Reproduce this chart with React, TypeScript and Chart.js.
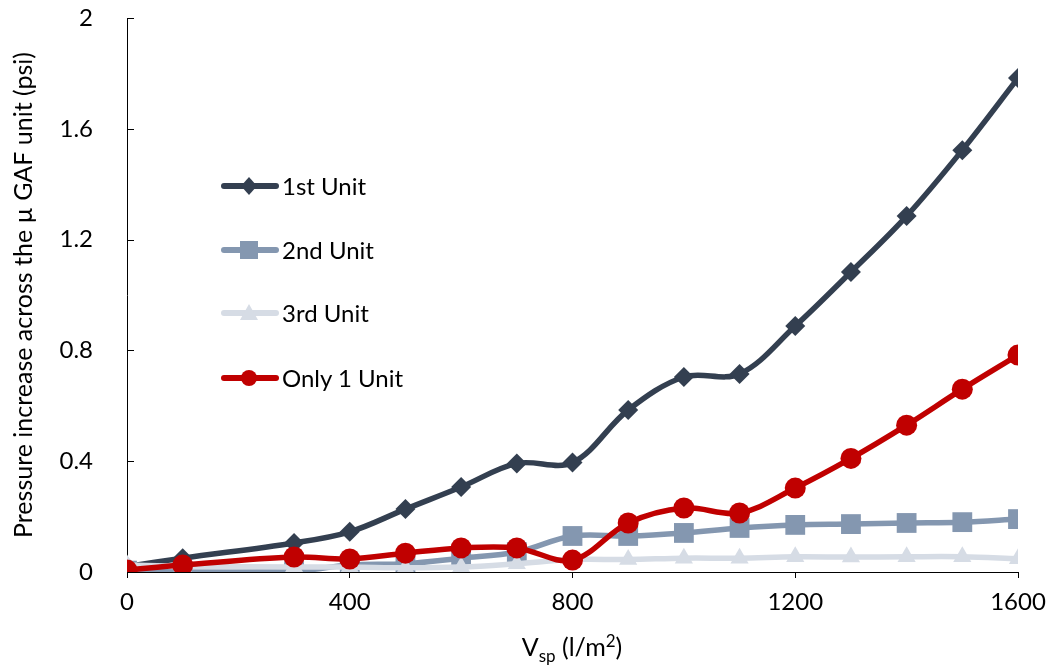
import React, { useEffect, useRef } from "react";
import Chart from "chart.js/auto";

const xValues = [0, 100, 300, 400, 500, 600, 700, 800, 900, 1000, 1100, 1200, 1300, 1400, 1500, 1600];
const unit1 = [0.02, 0.05, 0.105, 0.145, 0.227, 0.307, 0.392, 0.395, 0.585, 0.704, 0.715, 0.888, 1.083, 1.285, 1.523, 1.783];
const unit2 = [0.005, 0.0, 0.003, 0.025, 0.03, 0.05, 0.072, 0.13, 0.13, 0.141, 0.159, 0.17, 0.173, 0.177, 0.18, 0.191];
const unit3 = [0.025, 0.02, 0.018, 0.018, 0.015, 0.018, 0.03, 0.045, 0.045, 0.05, 0.05, 0.055, 0.054, 0.055, 0.055, 0.048];
const only1 = [0.007, 0.025, 0.054, 0.047, 0.068, 0.087, 0.087, 0.043, 0.177, 0.231, 0.213, 0.303, 0.41, 0.53, 0.66, 0.783];

const seriesNames = ["1st Unit", "2nd Unit", "3rd Unit", "Only 1 Unit"];
const seriesColors = ["#333F50", "#8497B0", "#D6DCE5", "#C00000"];
const xTicks = [0, 400, 800, 1200, 1600];
const yTicks = [0, 0.4, 0.8, 1.2, 1.6, 2];

const FONT = "Lato, 'Open Sans', sans-serif";

const toPts = (ys: number[]) => xValues.map((x, i) => ({ x, y: ys[i] }));

const yTickPlugin = {
  id: "yInwardTicks",
  afterDraw(chart: any) {
    const { ctx, chartArea, scales } = chart;
    ctx.save();
    ctx.strokeStyle = "#000";
    ctx.lineWidth = 1;
    yTicks.forEach((v) => {
      const y = Math.round(scales.y.getPixelForValue(v)) + 0.5;
      ctx.beginPath();
      ctx.moveTo(chartArea.left, y);
      ctx.lineTo(chartArea.left + 7, y);
      ctx.stroke();
    });
    ctx.restore();
  },
};

function LegendMarker({ idx }: { idx: number }) {
  const c = seriesColors[idx];
  let marker: any = null;
  if (idx === 0) marker = <polygon points="28,2 36,11 28,20 20,11" fill={c} />;
  if (idx === 1) marker = <rect x={19} y={2} width={18} height={18} fill={c} />;
  if (idx === 2) marker = <polygon points="28,2 37,18 19,18" fill={c} />;
  if (idx === 3) marker = <circle cx={28} cy={11} r={8} fill={c} />;
  return (
    <svg width={58} height={22} style={{ display: "block" }}>
      <line x1={3} y1={11} x2={55} y2={11} stroke={c} strokeWidth={6} strokeLinecap="round" />
      {marker}
    </svg>
  );
}

export default function App() {
  const ref = useRef<HTMLCanvasElement>(null);

  useEffect(() => {
    document.body.style.margin = "0";
    const mk = (i: number, ys: number[], style: string, radius: number, order: number) => ({
      label: seriesNames[i],
      data: toPts(ys),
      borderColor: seriesColors[i],
      backgroundColor: seriesColors[i],
      pointBackgroundColor: seriesColors[i],
      pointBorderColor: seriesColors[i],
      pointBorderWidth: 0,
      pointStyle: style,
      pointRadius: radius,
      borderWidth: 5.5,
      borderCapStyle: "round",
      borderJoinStyle: "round",
      tension: 0.35,
      order,
    });
    const chart = new Chart(ref.current!, {
      type: "line",
      data: {
        datasets: [
          mk(0, unit1, "rectRot", 10, 4),
          mk(1, unit2, "rect", 14, 3),
          mk(2, unit3, "triangle", 10.5, 2),
          mk(3, only1, "circle", 10.5, 1),
        ] as any,
      },
      options: {
        animation: false,
        responsive: false,
        layout: { padding: { left: 0, right: 32, top: 18, bottom: 0 } },
        plugins: { legend: { display: false }, tooltip: { enabled: false } },
        scales: {
          x: {
            type: "linear",
            min: 0,
            max: 1600,
            afterBuildTicks: (s: any) => {
              s.ticks = xTicks.map((v) => ({ value: v }));
            },
            afterFit: (s: any) => {
              s.height = 96;
              s.paddingLeft = 0;
              s.paddingRight = 0;
            },
            grid: { drawOnChartArea: false, drawTicks: true, tickLength: 6, color: "#000" },
            border: { display: true, color: "#000", width: 1 },
            ticks: {
              color: "#000",
              font: { family: FONT, size: 24 },
              padding: 10,
              maxRotation: 0,
              callback: (v: any) => String(v),
            },
          },
          y: {
            type: "linear",
            min: 0,
            max: 2,
            afterBuildTicks: (s: any) => {
              s.ticks = yTicks.map((v) => ({ value: v }));
            },
            afterFit: (s: any) => {
              s.width = 127;
              s.paddingTop = 0;
              s.paddingBottom = 0;
            },
            grid: { display: false },
            border: { display: true, color: "#000", width: 1 },
            ticks: {
              color: "#000",
              font: { family: FONT, size: 24 },
              padding: 26,
              callback: (v: any) => String(Number(Number(v).toFixed(1))),
            },
            title: {
              display: true,
              text: "Pressure increase across the µ GAF unit (psi)",
              color: "#000",
              font: { family: FONT, size: 25 },
              padding: { top: 9, bottom: 0 },
            },
          },
        },
      } as any,
      plugins: [yTickPlugin],
    });
    return () => chart.destroy();
  }, []);

  const legendY = [186, 250, 313, 378];

  return (
    <div style={{ position: "relative", width: 1050, height: 668, fontFamily: FONT }}>
      <canvas ref={ref} width={1050} height={668} style={{ display: "block" }} />
      {seriesNames.map((n, i) => (
        <div
          key={n}
          style={{
            position: "absolute",
            left: 221,
            top: legendY[i] - 13,
            height: 26,
            display: "flex",
            alignItems: "center",
            whiteSpace: "nowrap",
          }}
        >
          <LegendMarker idx={i} />
          <span style={{ fontSize: 24, color: "#000", marginLeft: 3, lineHeight: "26px" }}>{n}</span>
        </div>
      ))}
      <div
        style={{
          position: "absolute",
          left: 422,
          width: 300,
          top: 627,
          textAlign: "center",
          fontSize: 25,
          color: "#000",
          lineHeight: "28px",
        }}
      >
        V<sub style={{ fontSize: 17 }}>sp</sub> (l/m<sup style={{ fontSize: 17 }}>2</sup>)
      </div>
    </div>
  );
}
